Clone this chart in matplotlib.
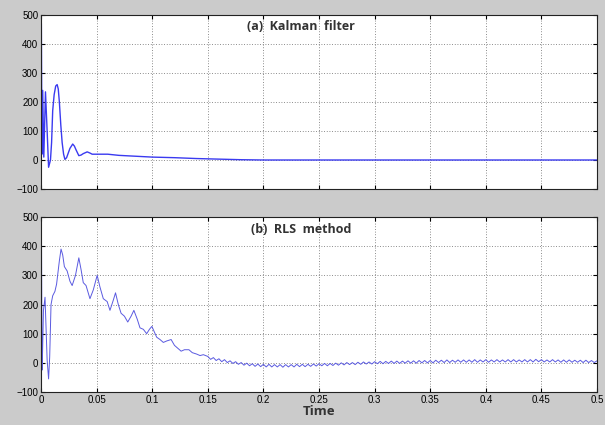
import numpy as np
import matplotlib.pyplot as plt
from matplotlib.ticker import FuncFormatter

# (a) Kalman filter: key points
kal_t = [0, 0.0003, 0.0008, 0.0015, 0.0025, 0.0040, 0.0055, 0.0068, 0.0085,
         0.0095, 0.0105, 0.0118, 0.0132, 0.0145, 0.0155, 0.0165, 0.0178, 0.019,
         0.0203, 0.0215, 0.023, 0.026, 0.0285, 0.030, 0.0315, 0.034, 0.036,
         0.038, 0.0415, 0.044, 0.046, 0.05, 0.06, 0.07, 0.08, 0.09, 0.1, 0.12,
         0.14, 0.16, 0.18, 0.2, 0.23, 0.3, 0.4, 0.5]
kal_y = [460, 470, 20, 240, 10, 235, 100, -25, 0,
         60, 170, 225, 255, 260, 245, 200, 120, 60,
         20, 2, 8, 40, 55, 48, 35, 15, 17,
         22, 28, 24, 20, 20, 20, 16, 14, 12, 10, 8,
         5, 3, 1, 0, 0, 0, 0, 0]

# (b) RLS method: transient part
rls_t = [0, 0.0004, 0.0009, 0.0013, 0.0022, 0.0036, 0.0045, 0.0055, 0.0068,
         0.0078, 0.009, 0.0105, 0.0125, 0.014, 0.0165, 0.018, 0.0195, 0.021,
         0.0235, 0.026, 0.028, 0.031, 0.034, 0.036, 0.038, 0.0405, 0.044,
         0.047, 0.0505, 0.053, 0.056, 0.0595, 0.062, 0.065, 0.067, 0.0695,
         0.072, 0.075, 0.078, 0.081, 0.0835, 0.0865, 0.089, 0.092, 0.095,
         0.0975, 0.0997, 0.102, 0.104, 0.107, 0.110, 0.113, 0.117, 0.120,
         0.123, 0.126, 0.129, 0.133, 0.136, 0.140, 0.143, 0.146]
rls_y = [460, 470, -25, 20, 180, 225, 120, 10, -55,
         20, 200, 230, 245, 270, 350, 390, 370, 330,
         315, 280, 265, 300, 360, 320, 275, 265, 220,
         250, 300, 260, 220, 210, 180, 215, 240, 200,
         170, 160, 140, 160, 180, 150, 120, 115, 100,
         115, 125, 105, 88, 80, 70, 75, 80, 60,
         50, 40, 45, 45, 35, 30, 25, 28]

# (b) RLS method: rippled tail, one value every 0.0025 s from 0.15 s
rls_tail_start = 0.15
rls_tail_step = 0.0025
rls_tail = [22, 12, 18, 8, 14, 4, 11, 1, 7, -2, 4, -5, 1, -8, -1, -10, -3, -12,
            -4, -13, -5, -14, -5, -14, -6, -14, -6, -15, -6, -14, -6, -14, -5,
            -13, -5, -13, -5, -12, -4, -11, -3, -10, -2, -10, -2, -9, -1, -8,
            0, -7, 1, -6, 1, -6, 2, -5, 3, -4, 3, -4, 4, -3, 5, -3, 5, -2, 6,
            -2, 6, -2, 6, -1, 7, -1, 7, -1, 8, 0, 8, 0, 8, 0, 9, 1, 9, 1, 10,
            1, 9, 2, 10, 2, 10, 2, 10, 2, 11, 2, 10, 3, 11, 2, 10, 3, 11, 3,
            10, 3, 11, 3, 11, 3, 10, 3, 11, 3, 11, 3, 12, 4, 11, 3, 10, 3, 11,
            3, 10, 2, 10, 2, 10, 2, 9, 2, 9, 1, 9, 1, 8, 1, 7]

x_ticks = [0, 0.05, 0.1, 0.15, 0.2, 0.25, 0.3, 0.35, 0.4, 0.45, 0.5]
y_ticks = [-100, 0, 100, 200, 300, 400, 500]

tail_t = rls_tail_start + rls_tail_step * np.arange(len(rls_tail))
rls_all_t = np.concatenate([rls_t, tail_t])
rls_all_y = np.concatenate([rls_y, rls_tail])

bg = '#cbcbcb'
fig = plt.figure(figsize=(6.05, 4.25), dpi=100, facecolor=bg)
ax1 = fig.add_axes([0.0678, 0.5553, 0.919, 0.4094])
ax2 = fig.add_axes([0.0678, 0.0776, 0.919, 0.4118])

tick_family = ['Liberation Sans Narrow', 'Liberation Sans', 'DejaVu Sans']

for ax in (ax1, ax2):
    ax.set_xlim(0, 0.5)
    ax.set_ylim(-100, 500)
    ax.set_xticks(x_ticks)
    ax.set_yticks(y_ticks)
    ax.grid(True, linestyle=(0, (1, 2.2)), color='#666666', linewidth=0.6)
    ax.tick_params(direction='in', length=3, top=True, right=True, width=0.8,
                   pad=2, colors='black')
    for s in ax.spines.values():
        s.set_linewidth(0.8)
        s.set_color('#222222')
    for lab in ax.get_yticklabels():
        lab.set_fontfamily(tick_family)
        lab.set_fontsize(7)

ax1.plot(kal_t, kal_y, color='#3a3af0', linewidth=1.0)
ax1.set_xticklabels([])
ax1.text(0.468, 0.935, '(a)  Kalman  filter', transform=ax1.transAxes,
         ha='center', va='center', fontsize=9, fontweight='bold',
         color='#333333', family=['Open Sans', 'DejaVu Sans'])

ax2.plot(rls_all_t, rls_all_y, color='#5a5ae0', linewidth=0.7)
ax2.xaxis.set_major_formatter(FuncFormatter(lambda v, p: '%g' % round(v, 3)))
for lab in ax2.get_xticklabels():
    lab.set_fontfamily(tick_family)
    lab.set_fontsize(7)
ax2.text(0.468, 0.93, '(b)  RLS  method', transform=ax2.transAxes,
         ha='center', va='center', fontsize=9, fontweight='bold',
         color='#333333', family=['Open Sans', 'DejaVu Sans'])
ax2.set_xlabel('Time', fontsize=9.5, fontweight='bold', color='#333333',
               family=['Open Sans', 'DejaVu Sans'], labelpad=0)

fig.savefig('out.png', dpi=100, facecolor=bg)
